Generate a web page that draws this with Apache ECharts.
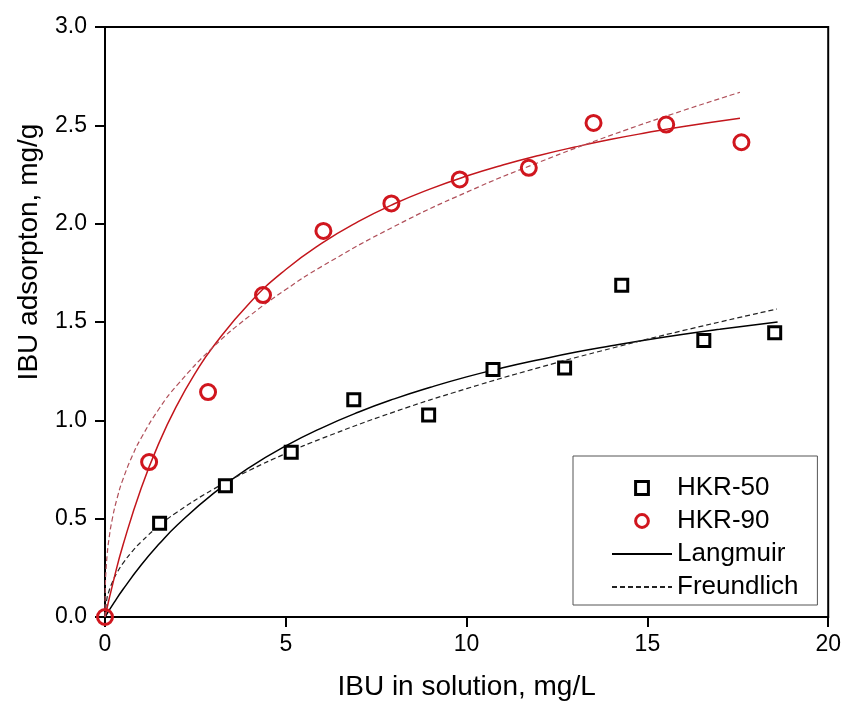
<!DOCTYPE html>
<html>
<head>
<meta charset="utf-8">
<script src="https://cdn.jsdelivr.net/npm/echarts@6/dist/echarts.min.js"></script>
<style>
  html, body { margin: 0; padding: 0; background: #fff; }
  #chart { width: 844px; height: 706px; }
</style>
</head>
<body>
<div id="chart"></div>
<script>
// measured points, [C, q]
const hkr50 = [
  [1.51, 0.477], [3.33, 0.667], [5.15, 0.838], [6.88, 1.105], [8.95, 1.027],
  [10.73, 1.259], [12.71, 1.266], [14.29, 1.687], [16.56, 1.406], [18.52, 1.445]
];
const hkr90 = [
  [0, 0], [1.22, 0.788], [2.85, 1.144], [4.37, 1.637], [6.04, 1.963], [7.92, 2.103],
  [9.81, 2.225], [11.72, 2.284], [13.51, 2.512], [15.52, 2.504], [17.6, 2.414]
];

// fitted curves
const langmuir50 = [
  [0, 0], [0.25, 0.073], [0.5, 0.141], [1, 0.264], [1.5, 0.372], [2, 0.468],
  [3, 0.629], [4, 0.761], [5, 0.870], [6, 0.962], [7, 1.041], [8, 1.109],
  [9, 1.168], [10, 1.221], [11, 1.267], [12, 1.308], [13, 1.346], [14, 1.379],
  [15, 1.410], [16, 1.438], [17, 1.463], [18.6, 1.500]
];
const freundlich50 = [
  [0, 0], [0.05, 0.090], [0.1, 0.126], [0.2, 0.176], [0.35, 0.231], [0.5, 0.274],
  [0.75, 0.333], [1, 0.382], [1.5, 0.465], [2, 0.534], [3, 0.650], [4, 0.746],
  [5, 0.831], [6, 0.908], [8, 1.043], [10, 1.161], [12, 1.268], [14, 1.366],
  [16, 1.457], [18.58, 1.566]
];
const langmuir90 = [
  [0, 0], [0.25, 0.195], [0.5, 0.367], [1, 0.655], [1.5, 0.888], [2, 1.080],
  [2.5, 1.241], [3, 1.377], [4, 1.597], [5, 1.767], [6, 1.901], [7, 2.010],
  [8, 2.101], [9, 2.177], [10, 2.242], [11, 2.298], [12, 2.347], [13, 2.390],
  [14, 2.429], [15, 2.463], [16, 2.494], [17.56, 2.536]
];
const freundlich90 = [
  [0, 0], [0.01, 0.162], [0.03, 0.244], [0.06, 0.317], [0.1, 0.384], [0.2, 0.497],
  [0.35, 0.614], [0.5, 0.702], [0.75, 0.817], [1, 0.910], [1.5, 1.060], [2, 1.180],
  [3, 1.374], [4, 1.531], [5, 1.665], [6, 1.783], [8, 1.986], [10, 2.160],
  [12, 2.312], [14, 2.450], [16, 2.576], [17.56, 2.668]
];

const RED = '#d0161e';
const FONT = 'Liberation Sans, Arial, sans-serif';

// legend entries: line items hide the dot ECharts puts on line icons
const legendItems = [
  { name: 'HKR-50', itemStyle: { color: '#fff', borderColor: '#000', borderWidth: 3 } },
  { name: 'HKR-90', itemStyle: { color: '#fff', borderColor: RED, borderWidth: 3 } },
  { name: 'Langmuir', itemStyle: { opacity: 0 } },
  { name: 'Freundlich', itemStyle: { opacity: 0 } }
];

// markers drawn as line series with hidden lines, so the legend keeps them square
function markerSeries(name, data, symbol, size, style) {
  return {
    name: name, type: 'line', data: data,
    symbol: symbol, symbolSize: size, showSymbol: true, showAllSymbol: true,
    clip: false, z: 4,
    lineStyle: { opacity: 0, width: 0 },
    itemStyle: style
  };
}

const chart = echarts.init(document.getElementById('chart'));
chart.setOption({
  animation: false,
  backgroundColor: '#fff',
  grid: {
    left: 105, right: 15, top: 27, bottom: 87,
    show: true, borderColor: '#000', borderWidth: 2
  },
  xAxis: {
    type: 'value', min: 0, max: 20, interval: 5,
    name: 'IBU in solution, mg/L',
    nameLocation: 'middle', nameGap: 56,
    nameTextStyle: { fontSize: 28, color: '#000', fontFamily: FONT },
    axisLine: { lineStyle: { color: '#000', width: 2 } },
    axisTick: { length: 10, lineStyle: { color: '#000', width: 2 } },
    axisLabel: { fontSize: 23, color: '#000', fontFamily: FONT, margin: 16 },
    splitLine: { show: false }
  },
  yAxis: {
    type: 'value', min: 0, max: 3, interval: 0.5,
    name: 'IBU adsorpton, mg/g',
    nameLocation: 'middle', nameGap: 62,
    nameTextStyle: {
      fontSize: 28, color: '#000', fontFamily: FONT,
      padding: [0, 0, 0, 140]
    },
    axisLine: { lineStyle: { color: '#000', width: 2 } },
    axisTick: { length: 10, lineStyle: { color: '#000', width: 2 } },
    axisLabel: {
      fontSize: 23, color: '#000', fontFamily: FONT, margin: 18,
      formatter: v => v.toFixed(1)
    },
    splitLine: { show: false }
  },
  legend: {
    data: legendItems,
    orient: 'vertical',
    left: 573, top: 456,
    padding: [19, 19, 5, 38],
    itemWidth: 60, itemHeight: 16, itemGap: 7,
    borderColor: '#555', borderWidth: 1,
    textStyle: { fontSize: 26, color: '#000', fontFamily: FONT, lineHeight: 22 }
  },
  series: [
    {
      name: 'Langmuir', type: 'line', data: langmuir50,
      smooth: true, symbol: 'none', z: 3,
      lineStyle: { color: '#000', width: 1.5 },
      itemStyle: { color: '#000' }
    },
    {
      name: 'Freundlich', type: 'line', data: freundlich50,
      smooth: true, symbol: 'none', z: 3,
      lineStyle: { color: '#222', width: 1.2, type: [5, 3] },
      itemStyle: { color: '#222' }
    },
    {
      name: 'Langmuir HKR-90', type: 'line', data: langmuir90,
      smooth: true, symbol: 'none', z: 3,
      lineStyle: { color: '#c3161c', width: 1.5 }
    },
    {
      name: 'Freundlich HKR-90', type: 'line', data: freundlich90,
      smooth: true, symbol: 'none', z: 3,
      lineStyle: { color: '#b0505a', width: 1.2, type: [5, 3] }
    },
    markerSeries('HKR-50', hkr50, 'rect', 12,
      { color: '#fff', borderColor: '#000', borderWidth: 3 }),
    markerSeries('HKR-90', hkr90, 'circle', 15,
      { color: 'rgba(255,255,255,0)', borderColor: RED, borderWidth: 3 })
  ]
});
</script>
</body>
</html>
